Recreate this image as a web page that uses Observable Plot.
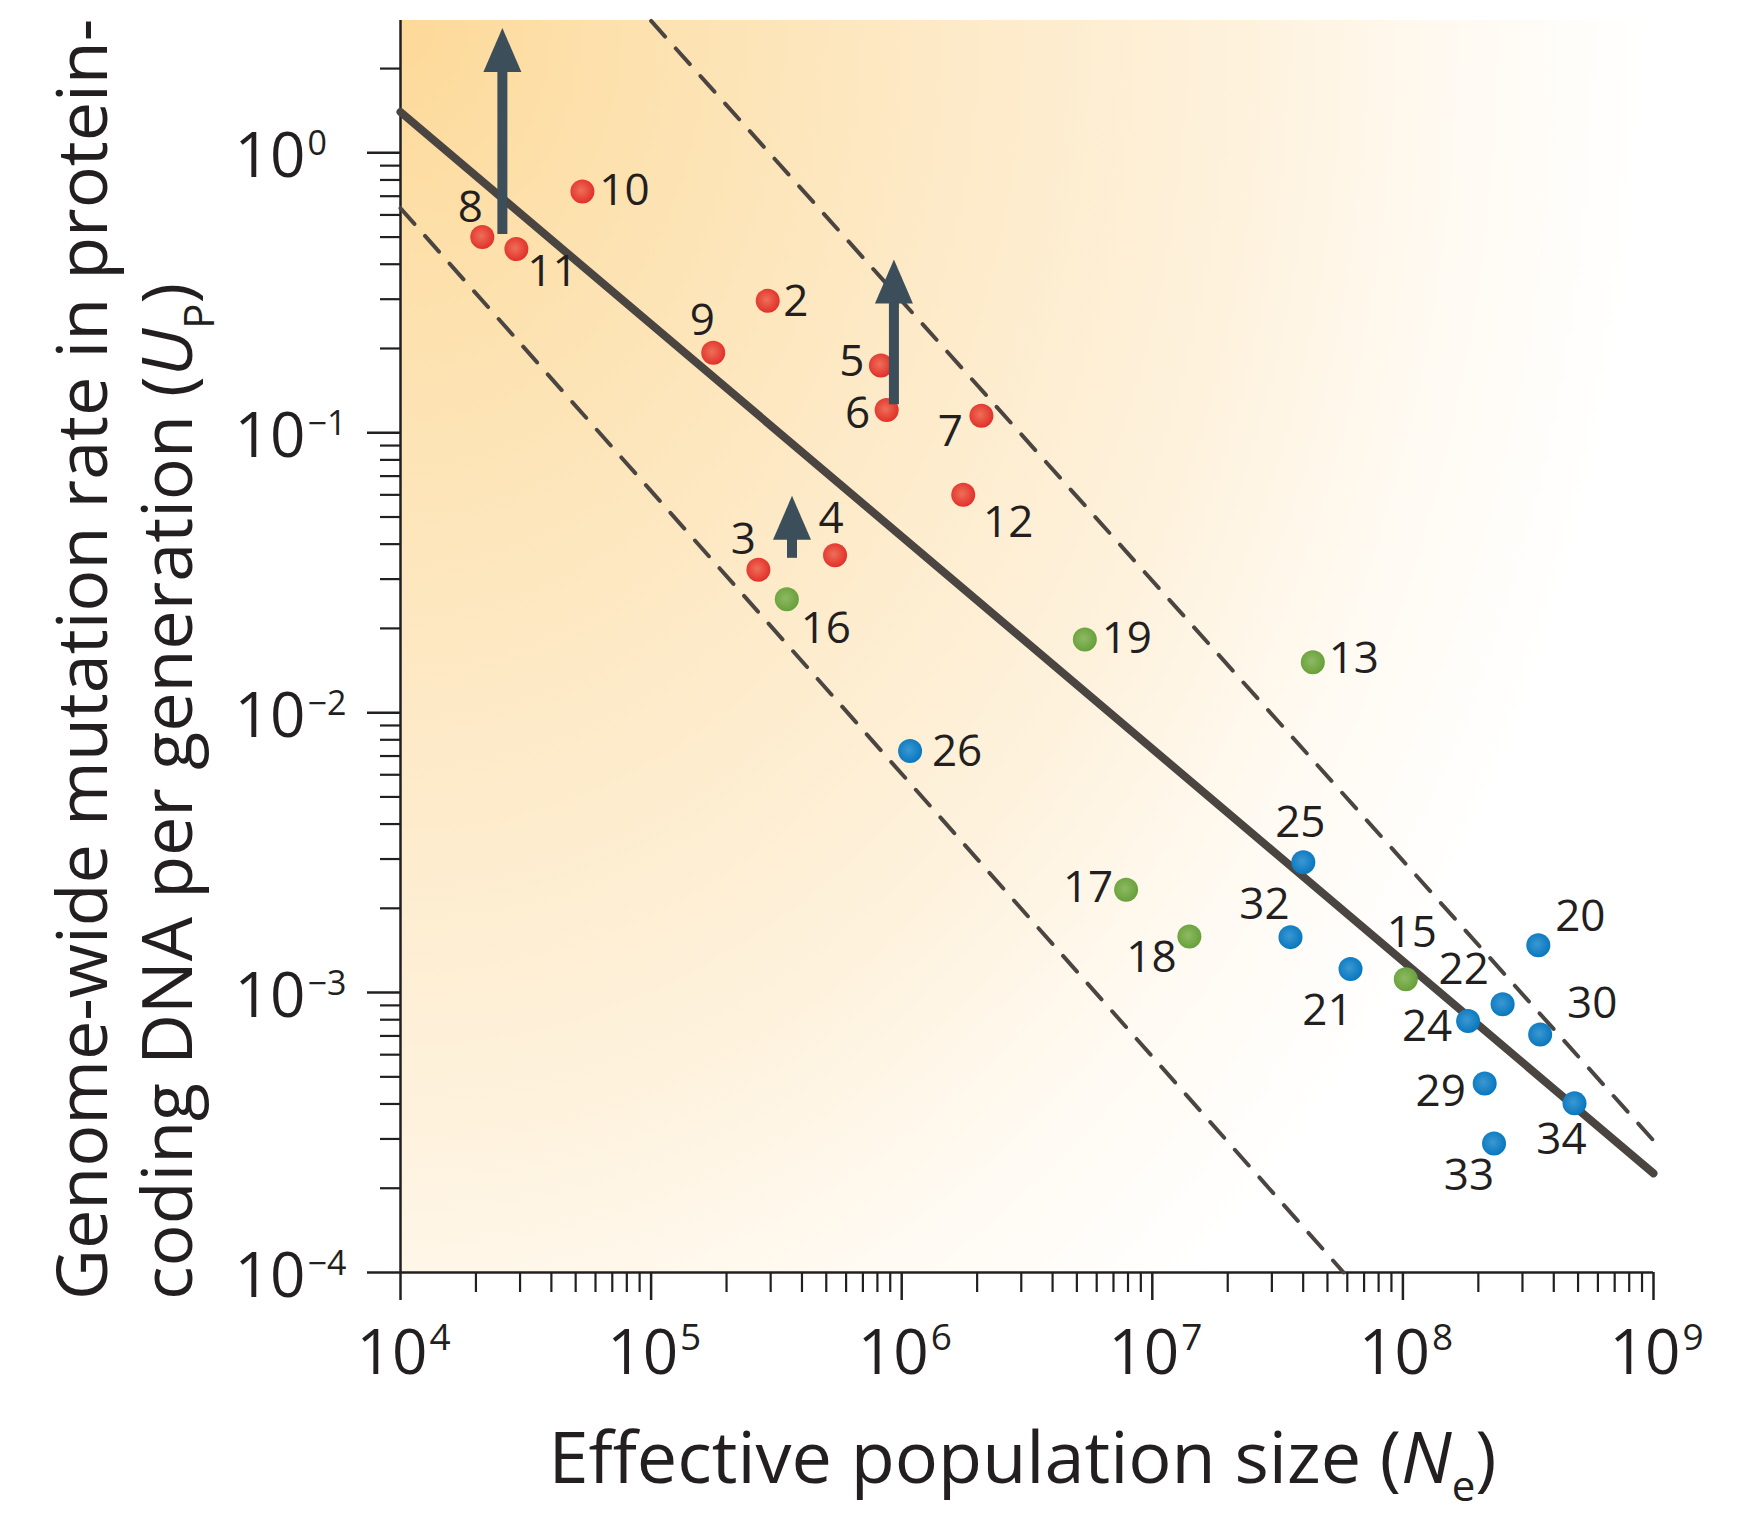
<!DOCTYPE html>
<html><head><meta charset="utf-8">
<script src="https://cdn.jsdelivr.net/npm/d3@7"></script>
<script src="https://cdn.jsdelivr.net/npm/@observablehq/plot@0.6"></script>
<style>body{margin:0;background:#fff} svg{display:block}</style>
</head><body><div id="chart"></div>
<script>
// ---- data ----
const redIds = [8, 11, 10, 9, 2, 5, 6, 7, 12, 3, 4];
const redNe  = [2.12e4, 2.90e4, 5.32e4, 1.77e5, 2.92e5, 8.26e5, 8.71e5, 2.08e6, 1.76e6, 2.68e5, 5.42e5];
const redUp  = [0.500, 0.453, 0.728, 0.193, 0.296, 0.174, 0.1205, 0.115, 0.060, 0.0324, 0.0365];

const greenIds = [16, 19, 13, 17, 18, 15];
const greenNe  = [3.48e5, 5.38e6, 4.37e7, 7.86e6, 1.406e7, 1.027e8];
const greenUp  = [0.0254, 0.01824, 0.01514, 2.33e-3, 1.585e-3, 1.116e-3];

const blueIds = [26, 25, 32, 21, 20, 22, 24, 30, 29, 34, 33];
const blueNe  = [1.08e6, 4.005e7, 3.56e7, 6.18e7, 3.47e8, 2.50e8, 1.82e8, 3.53e8, 2.12e8, 4.84e8, 2.31e8];
const blueUp  = [7.29e-3, 2.92e-3, 1.578e-3, 1.213e-3, 1.476e-3, 9.09e-4, 7.91e-4, 7.08e-4, 4.73e-4, 4.02e-4, 2.89e-4];

// regression line and dashed bounds (endpoints)
const fitNe = [1e4, 1e9];
const fitUp = [1.40, 2.26e-4];
const upperNe = [1e5, 1e9];
const upperUp = [2.96, 2.96e-4];
const lowerNe = [1e4, 5.8e7];
const lowerUp = [0.634, 1e-4];

// arrows (lower bounds)
const arrowNe   = [2.55e4, 9.31e5, 3.65e5];
const arrowFrom = [0.511, 0.126, 0.0356];
const arrowTo   = [2.79, 0.416, 0.0595];

// ticks
const xMajorTicks = [1e4, 1e5, 1e6, 1e7, 1e8, 1e9];
const xTickExponents = ["4", "5", "6", "7", "8", "9"];
const yMajorTicks = [1e-4, 1e-3, 1e-2, 1e-1, 1e0];
const yTickExponents = ["\u22124", "\u22123", "\u22122", "\u22121", "0"];
const xMinorTicks = d3.range(4, 9).flatMap(e => d3.range(2, 10).map(k => k * Math.pow(10, e)));
const yMinorTicks = d3.range(-4, 1).flatMap(e => d3.range(2, 10).map(k => k * Math.pow(10, e))).filter(v => v < 2.9);

// ---- layout (label offsets in px, relative to the dot) ----
const labelOffset = {
  8:[-12,-29], 11:[36,23], 10:[42,-1], 9:[-11,-32], 2:[28,1], 5:[-29,-4], 6:[-29,4], 7:[-31,16],
  12:[45,28], 3:[-15,-30], 4:[-4,-36], 16:[39,30], 19:[42,-1], 13:[41,-3], 26:[47,1], 25:[-3,-39],
  17:[-38,-2], 18:[-38,21], 32:[-26,-32], 21:[-23,42], 15:[6,-46], 20:[42,-28], 22:[-39,-34],
  24:[-41,6], 30:[52,-31], 29:[-44,8], 34:[-13,37], 33:[-25,32]
};

const INK = "#231f20";
const LINE = "#4b4542";
const ARROW = "#3c4e5a";
const FONT = "'Open Sans', 'Noto Sans', sans-serif";

const table = (ids, ne, up) => ids.map((id, i) => ({id, Ne: ne[i], Up: up[i]}));
const red = table(redIds, redNe, redUp);
const green = table(greenIds, greenNe, greenUp);
const blue = table(blueIds, blueNe, blueUp);
const pts = [...red, ...green, ...blue];
const pairs = (xs, ys) => xs.map((x, i) => ({Ne: x, Up: ys[i]}));
const arrows = arrowNe.map((x, i) => ({Ne: x, from: arrowFrom[i], to: arrowTo[i]}));
const xTicks = xMajorTicks.map((v, i) => ({v, e: xTickExponents[i]}));
const yTicks = yMajorTicks.map((v, i) => ({v, e: yTickExponents[i]}));

// defs: gradients for background and dots
function defs() {
  const g = d3.create("svg:g");
  const d = g.append("defs");
  const bg = d.append("radialGradient").attr("id", "bgGrad")
    .attr("gradientUnits", "userSpaceOnUse").attr("cx", 400).attr("cy", 20).attr("r", 1250)
    .attr("gradientTransform", "translate(400,20) scale(1,1.3) translate(-400,-20)");
  [[0, "#fdd999"], [0.2, "#fde2b0"], [0.45, "#fdeac8"], [0.68, "#fef2dd"], [0.85, "#fffaf2"], [1, "#ffffff"]]
    .forEach(([o, c]) => bg.append("stop").attr("offset", o).attr("stop-color", c));
  const dot = (id, c0, c1) => {
    const rg = d.append("radialGradient").attr("id", id).attr("cx", "45%").attr("cy", "45%").attr("r", "55%");
    rg.append("stop").attr("offset", 0).attr("stop-color", c0);
    rg.append("stop").attr("offset", 1).attr("stop-color", c1);
  };
  dot("gRed", "#ee6f58", "#e2302a");
  dot("gGreen", "#8dba63", "#68a03a");
  dot("gBlue", "#3b98d2", "#0877bf");
  return g.node();
}

function background(index, scales, values, dims) {
  const {width, height, marginLeft, marginRight, marginTop, marginBottom} = dims;
  return d3.create("svg:rect")
    .attr("x", marginLeft).attr("y", marginTop)
    .attr("width", width - marginLeft - marginRight)
    .attr("height", height - marginTop - marginBottom)
    .attr("fill", "url(#bgGrad)").node();
}

function titles(index, scales, values, dims) {
  const {width, height, marginLeft, marginRight, marginBottom} = dims;
  const g = d3.create("svg:g").attr("fill", INK).attr("font-family", FONT);
  const yb = height - marginBottom + 28;
  g.append("text").attr("transform", `translate(107,${yb}) rotate(-90)`)
    .attr("text-anchor", "start").attr("font-size", 70).text("Genome-wide mutation rate in protein-");
  const t2 = g.append("text").attr("transform", `translate(192,${yb}) rotate(-90)`)
    .attr("text-anchor", "start").attr("font-size", 70);
  t2.append("tspan").text("coding DNA per generation (");
  t2.append("tspan").attr("font-style", "italic").text("U");
  t2.append("tspan").attr("font-size", 42).attr("dy", 22).text("P");
  t2.append("tspan").attr("dy", -22).text(")");
  const cx = (marginLeft + width - marginRight) / 2 - 4;
  const t3 = g.append("text").attr("x", cx).attr("y", height - 30)
    .attr("text-anchor", "middle").attr("font-size", 72);
  t3.append("tspan").text("Effective population size (");
  t3.append("tspan").attr("font-style", "italic").text("N");
  t3.append("tspan").attr("font-size", 42).attr("dy", 18).text("e");
  t3.append("tspan").attr("dy", -18).text(")");
  return g.node();
}

const arrowHead = {
  draw(ctx) { ctx.moveTo(0, 0); ctx.lineTo(19, 44); ctx.lineTo(-19, 44); ctx.closePath(); }
};

const pointLabels = pts.map(p => Plot.text([p], {
  x: "Ne", y: "Up", text: d => String(d.id),
  dx: labelOffset[p.id][0], dy: labelOffset[p.id][1],
  fontSize: 44, fill: INK, textAnchor: "middle", lineAnchor: "middle"
}));

const chart = Plot.plot({
  width: 1742, height: 1513,
  marginLeft: 400, marginRight: 89, marginTop: 20, marginBottom: 241,
  x: {type: "log", domain: [1e4, 1e9]},
  y: {type: "log", domain: [1e-4, 2.97]},
  style: {fontFamily: FONT, color: INK, background: "white", overflow: "visible"},
  marks: [
    defs,
    background,
    // axis lines
    Plot.ruleX([1e4], {stroke: INK, strokeWidth: 2.5}),
    Plot.ruleY([1e-4], {stroke: INK, strokeWidth: 2.5}),
    // ticks
    Plot.axisX({ticks: xMajorTicks, tickSize: 28, stroke: INK, strokeWidth: 2.5, tickFormat: () => "", label: null}),
    Plot.axisX({ticks: xMinorTicks, tickSize: 20, stroke: INK, strokeWidth: 2.2, tickFormat: () => "", label: null}),
    Plot.axisY({ticks: yMajorTicks, tickSize: 33, stroke: INK, strokeWidth: 2.5, tickFormat: () => "", label: null}),
    Plot.axisY({ticks: yMinorTicks, tickSize: 20, stroke: INK, strokeWidth: 2.2, tickFormat: () => "", label: null}),
    // lines
    Plot.line(pairs(upperNe, upperUp), {x: "Ne", y: "Up", stroke: LINE, strokeWidth: 4, strokeDasharray: "21 16"}),
    Plot.line(pairs(lowerNe, lowerUp), {x: "Ne", y: "Up", stroke: LINE, strokeWidth: 4, strokeDasharray: "21 16"}),
    Plot.line(pairs(fitNe, fitUp), {x: "Ne", y: "Up", stroke: LINE, strokeWidth: 8, strokeLinecap: "round"}),
    // dots
    Plot.dot(red, {x: "Ne", y: "Up", r: 12, fill: "url(#gRed)"}),
    Plot.dot(green, {x: "Ne", y: "Up", r: 12, fill: "url(#gGreen)"}),
    Plot.dot(blue, {x: "Ne", y: "Up", r: 12, fill: "url(#gBlue)"}),
    // arrows
    Plot.ruleX(arrows, {x: "Ne", y1: "to", y2: "from", stroke: ARROW, strokeWidth: 10, insetTop: 40}),
    Plot.dot(arrows, {x: "Ne", y: "to", symbol: arrowHead, fill: ARROW, stroke: "none"}),
    // point labels
    ...pointLabels,
    // tick labels
    Plot.text(yTicks, {y: "v", frameAnchor: "left", text: () => "10", textAnchor: "end", lineAnchor: "bottom", dx: -95, dy: 24, fontSize: 62, fill: INK}),
    Plot.text(yTicks, {y: "v", frameAnchor: "left", text: "e", textAnchor: "start", lineAnchor: "bottom", dx: -93, dy: 2, fontSize: 34, fill: INK}),
    Plot.text(xTicks, {x: "v", frameAnchor: "bottom", text: () => "10", textAnchor: "end", lineAnchor: "bottom", dx: 27, dy: 101, fontSize: 62, fill: INK}),
    Plot.text(xTicks, {x: "v", frameAnchor: "bottom", text: "e", textAnchor: "start", lineAnchor: "bottom", dx: 29, dy: 77, fontSize: 37, fill: INK}),
    titles
  ]
});
document.getElementById("chart").appendChild(chart);
</script>
</body></html>
